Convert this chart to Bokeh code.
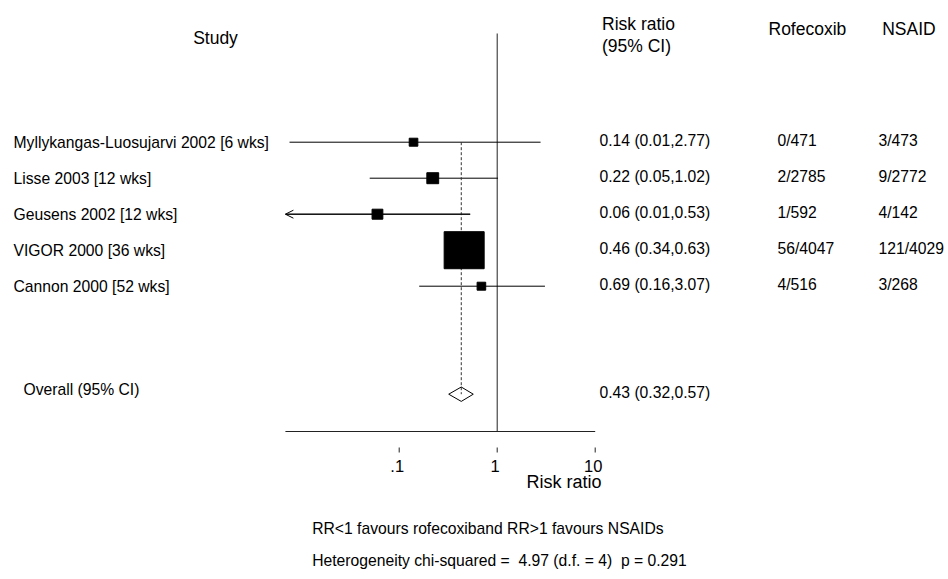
import numpy as np
from bokeh.plotting import figure
from bokeh.models import (Range1d, LinearScale, ColumnDataSource, Arrow, OpenHead)
from bokeh.core.properties import value
from bokeh.embed import file_html
from bokeh.resources import INLINE

# ---------------- data ----------------
studies = ["Myllykangas-Luosujarvi 2002 [6 wks]", "Lisse 2003 [12 wks]",
           "Geusens 2002 [12 wks]", "VIGOR 2000 [36 wks]", "Cannon 2000 [52 wks]"]
rr = [0.14, 0.22, 0.06, 0.46, 0.69]
ci_lo = [0.0076, 0.05, 0.006, 0.34, 0.16]
ci_hi = [2.77, 1.02, 0.53, 0.63, 3.07]
weights = [3.7, 7.0, 5.8, 79.7, 3.7]          # percent weight (box area)
rofecoxib = ["0/471", "2/2785", "1/592", "56/4047", "4/516"]
nsaid = ["3/473", "9/2772", "4/142", "121/4029", "3/268"]
overall_rr, overall_lo, overall_hi = 0.43, 0.32, 0.57
tick_values = [0.1, 1, 10]
tick_labels = [".1", "1", "10"]
het_chi2, het_df, het_p = 4.97, 4, 0.291

# ---------------- layout ----------------
W, H = 948, 579
FONT = "Liberation Sans"
BODY = "15.7px"
HEAD = "17.5px"
X0, DEC = 496.7, 98.0            # pixel of RR=1 and pixels per decade
XMIN, XMAX = 0.0069, 10.0        # extent of the drawn x axis
ROW0, ROWH = 141.7, 36.0         # pixel of first row, row height
NB = "\u00a0"


def row_at(py):
    return (py - ROW0) / ROWH


rows = list(range(len(studies)))
overall_row = 7
axis_y = row_at(431)
top_y = row_at(33)

p = figure(width=W, height=H, x_axis_type="log",
           x_axis_location=None, y_axis_location=None,
           x_range=Range1d(10 ** (-X0 / DEC), 10 ** ((W - X0) / DEC)),
           y_range=Range1d(row_at(H), row_at(0)),
           output_backend="svg", toolbar_location=None,
           min_border_left=0, min_border_right=0, min_border_top=0,
           min_border_bottom=0)
p.extra_x_ranges = {"cols": Range1d(0, W)}
p.extra_x_scales = {"cols": LinearScale()}
p.grid.visible = False
p.outline_line_color = None
p.background_fill_color = "white"
p.border_fill_color = "white"

# x axis: line, ticks (detached below the line, Stata style) and labels
p.segment(x0=[XMIN], y0=[axis_y], x1=[XMAX], y1=[axis_y], line_color="#222222", line_width=1)
p.segment(x0=tick_values, y0=[row_at(447)] * len(tick_values),
          x1=tick_values, y1=[row_at(452)] * len(tick_values),
          line_color="#222222", line_width=1)
p.text(x=tick_values, y=[row_at(465)] * len(tick_values), text=tick_labels,
       x_offset=-2, text_font=value(FONT), text_font_size="16.5px", text_color="black",
       text_align="center", text_baseline="middle")

# line of no effect
p.segment(x0=[1], y0=[top_y], x1=[1], y1=[axis_y], line_color="#222222", line_width=1)

# confidence intervals
lo_clip = [max(l, XMIN) for l in ci_lo]
src = ColumnDataSource(dict(
    y=rows, rr=rr, lo=lo_clip, hi=ci_hi,
    size=[4.15 * np.sqrt(w) for w in weights],
    wsize=[4.15 * 1.08 * np.sqrt(w) for w in weights],
    study=studies, rofe=rofecoxib, nsaid=nsaid,
    est=[f"{r:.2f} ({l:.2f},{h:.2f})" for r, l, h in zip(rr, ci_lo, ci_hi)],
))
p.segment(x0="lo", y0="y", x1="hi", y1="y", source=src, line_color="black", line_width=1)
for r, l, h in zip(rows, ci_lo, ci_hi):
    if l < XMIN:
        p.add_layout(Arrow(end=OpenHead(size=8, line_width=1, line_color="black"),
                           x_start=h, y_start=r, x_end=XMIN, y_end=r,
                           line_color="black", line_width=1))

# overall line and diamond
p.segment(x0=[overall_rr], y0=[rows[0]], x1=[overall_rr], y1=[overall_row],
          line_color="#333333", line_width=1, line_dash="3 2")
p.patch(x=[overall_lo, overall_rr, overall_hi, overall_rr],
        y=[overall_row, overall_row - 0.2, overall_row, overall_row + 0.2],
        fill_color=None, line_color="black", line_width=1)

# boxes
p.rect(x="rr", y="y", width="wsize", height="size", width_units="screen",
       height_units="screen", source=src, fill_color="black", line_color="black")

# row texts
tk = dict(text_font=value(FONT), text_font_size=BODY, text_color="black",
          text_baseline="middle", text_align="left", x_range_name="cols")
p.text(x=13, y="y", text="study", source=src, **tk)
p.text(x=599, y="y", text="est", source=src, y_offset=-2, **tk)
p.text(x=777, y="y", text="rofe", source=src, y_offset=-2, **tk)
p.text(x=878, y="y", text="nsaid", source=src, y_offset=-2, **tk)
p.text(x=[23], y=[overall_row], text=["Overall (95% CI)"], y_offset=-5, **tk)
p.text(x=[599], y=[overall_row], text=[f"{overall_rr:.2f} ({overall_lo:.2f},{overall_hi:.2f})"],
       y_offset=-2, **tk)


def lab(text, x, py, size, align="left"):
    p.text(x=[x], y=[row_at(py)], text=[text], x_range_name="cols",
           text_font=value(FONT), text_font_size=size, text_color="black",
           text_align=align, text_baseline="middle")


lab("Study", 215, 37, HEAD, "center")
lab("Risk ratio", 601.5, 23, HEAD)
lab("(95% CI)", 601.5, 45, HEAD)
lab("Rofecoxib", 768, 28, HEAD)
lab("NSAID", 881.7, 28, HEAD)
lab("Risk ratio", 601, 481.7, "18px", "right")
lab("RR<1 favours rofecoxiband RR>1 favours NSAIDs", 311.7, 527.5, BODY)
lab(f"Heterogeneity chi-squared = {NB}{het_chi2:.2f} (d.f. = {het_df}) {NB}p = {het_p:.3f}",
    311.7, 560, BODY)

open("out.html", "w").write(file_html(p, INLINE))
